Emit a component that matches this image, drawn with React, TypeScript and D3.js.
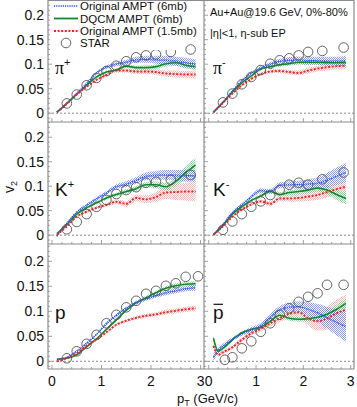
import React from "react";
import * as d3 from "d3";

// model pT grid (GeV/c)
const gridA = [0.1, 0.3, 0.5, 0.7, 0.9, 1.1, 1.3, 1.5, 1.7, 1.9, 2.1, 2.3, 2.5, 2.7, 2.9];
const gridPbar = [0.1, 0.2, 0.3, 0.5, 0.7, 0.9, 1.1, 1.3, 1.5, 1.7, 1.9, 2.1, 2.3, 2.5, 2.7, 2.9];

// pi+
const piPlusOrig6 = [0.002, 0.020, 0.040, 0.060, 0.082, 0.094, 0.100, 0.104, 0.109, 0.110, 0.109, 0.108, 0.106, 0.103, 0.100];
const piPlusOrig6Err = [0.001, 0.002, 0.002, 0.003, 0.003, 0.004, 0.004, 0.005, 0.006, 0.007, 0.008, 0.009, 0.009, 0.010, 0.010];
const piPlusDqcm = [0.002, 0.020, 0.039, 0.057, 0.074, 0.084, 0.088, 0.096, 0.093, 0.093, 0.095, 0.101, 0.103, 0.098, 0.095];
const piPlusDqcmErr = [0.001, 0.001, 0.002, 0.002, 0.003, 0.003, 0.003, 0.004, 0.004, 0.005, 0.005, 0.006, 0.006, 0.007, 0.007];
const piPlusOrig15 = [0.002, 0.019, 0.038, 0.054, 0.068, 0.078, 0.087, 0.087, 0.085, 0.085, 0.084, 0.081, 0.080, 0.079, 0.079];
const piPlusOrig15Err = [0.001, 0.001, 0.002, 0.002, 0.003, 0.003, 0.004, 0.004, 0.005, 0.005, 0.006, 0.006, 0.007, 0.007, 0.008];
const piPlusStarPt = [0.3, 0.5, 0.7, 0.9, 1.1, 1.3, 1.5, 1.7, 1.9, 2.1, 2.4, 2.8];
const piPlusStarV2 = [0.020, 0.038, 0.057, 0.072, 0.086, 0.097, 0.106, 0.114, 0.118, 0.120, 0.125, 0.130];

// pi-
const piMinusOrig6 = [0.002, 0.022, 0.045, 0.066, 0.082, 0.092, 0.100, 0.106, 0.108, 0.108, 0.107, 0.107, 0.106, 0.106, 0.107];
const piMinusOrig6Err = [0.001, 0.002, 0.002, 0.003, 0.003, 0.004, 0.004, 0.005, 0.006, 0.007, 0.008, 0.008, 0.009, 0.009, 0.010];
const piMinusDqcm = [0.002, 0.022, 0.043, 0.062, 0.076, 0.090, 0.095, 0.099, 0.101, 0.104, 0.104, 0.104, 0.103, 0.103, 0.103];
const piMinusDqcmErr = [0.001, 0.001, 0.002, 0.002, 0.003, 0.003, 0.003, 0.004, 0.004, 0.005, 0.005, 0.005, 0.006, 0.006, 0.007];
const piMinusOrig15 = [0.002, 0.021, 0.040, 0.057, 0.070, 0.080, 0.085, 0.086, 0.084, 0.082, 0.087, 0.091, 0.094, 0.096, 0.097];
const piMinusOrig15Err = [0.001, 0.001, 0.002, 0.002, 0.003, 0.003, 0.004, 0.004, 0.005, 0.005, 0.006, 0.006, 0.007, 0.007, 0.008];
const piMinusStarPt = [0.3, 0.5, 0.7, 0.9, 1.1, 1.3, 1.5, 1.7, 1.9, 2.1, 2.4, 2.85];
const piMinusStarV2 = [0.022, 0.040, 0.059, 0.074, 0.088, 0.101, 0.108, 0.112, 0.118, 0.125, 0.127, 0.134];

// K+
const kPlusOrig6 = [-0.002, 0.024, 0.047, 0.061, 0.074, 0.086, 0.099, 0.104, 0.112, 0.120, 0.122, 0.123, 0.122, 0.121, 0.121];
const kPlusOrig6Err = [0.001, 0.002, 0.003, 0.003, 0.004, 0.004, 0.005, 0.006, 0.007, 0.008, 0.009, 0.010, 0.011, 0.012, 0.012];
const kPlusDqcm = [0.003, 0.022, 0.043, 0.056, 0.066, 0.076, 0.083, 0.089, 0.095, 0.103, 0.103, 0.099, 0.110, 0.128, 0.143];
const kPlusDqcmErr = [0.001, 0.002, 0.002, 0.003, 0.003, 0.004, 0.004, 0.005, 0.005, 0.006, 0.007, 0.008, 0.010, 0.013, 0.015];
const kPlusOrig15 = [0.001, 0.018, 0.038, 0.048, 0.056, 0.062, 0.068, 0.064, 0.076, 0.073, 0.078, 0.087, 0.088, 0.089, 0.089];
const kPlusOrig15Err = [0.001, 0.002, 0.002, 0.003, 0.003, 0.004, 0.005, 0.006, 0.007, 0.008, 0.010, 0.013, 0.016, 0.018, 0.020];
const kPlusStarPt = [0.3, 0.5, 0.7, 0.9, 1.1, 1.3, 1.5, 1.7, 1.9, 2.1, 2.4, 2.8];
const kPlusStarV2 = [0.012, 0.027, 0.043, 0.058, 0.072, 0.084, 0.092, 0.098, 0.107, 0.109, 0.113, 0.123];

// K-
const kMinusOrig6 = [0.001, 0.022, 0.046, 0.062, 0.078, 0.091, 0.089, 0.102, 0.103, 0.103, 0.104, 0.106, 0.112, 0.120, 0.128];
const kMinusOrig6Err = [0.001, 0.002, 0.003, 0.003, 0.004, 0.005, 0.005, 0.006, 0.007, 0.008, 0.010, 0.012, 0.015, 0.018, 0.020];
const kMinusDqcm = [0.001, 0.020, 0.043, 0.058, 0.071, 0.080, 0.089, 0.083, 0.087, 0.089, 0.092, 0.096, 0.092, 0.083, 0.075];
const kMinusDqcmErr = [0.001, 0.002, 0.002, 0.003, 0.003, 0.004, 0.004, 0.005, 0.005, 0.006, 0.007, 0.008, 0.009, 0.011, 0.012];
const kMinusOrig15 = [0.001, 0.018, 0.038, 0.052, 0.063, 0.069, 0.064, 0.075, 0.075, 0.076, 0.079, 0.082, 0.088, 0.094, 0.099];
const kMinusOrig15Err = [0.001, 0.002, 0.002, 0.003, 0.003, 0.004, 0.005, 0.006, 0.007, 0.008, 0.009, 0.010, 0.011, 0.012, 0.012];
const kMinusStarPt = [0.3, 0.5, 0.7, 0.9, 1.1, 1.3, 1.5, 1.7, 1.9, 2.1, 2.4, 2.85];
const kMinusStarV2 = [0.011, 0.028, 0.043, 0.058, 0.069, 0.082, 0.092, 0.103, 0.107, 0.103, 0.114, 0.128];

// p
const pOrig6 = [0.004, 0.008, 0.020, 0.036, 0.054, 0.075, 0.092, 0.106, 0.117, 0.125, 0.131, 0.137, 0.141, 0.145, 0.147];
const pOrig6Err = [0.001, 0.001, 0.002, 0.002, 0.002, 0.003, 0.003, 0.003, 0.004, 0.004, 0.004, 0.005, 0.005, 0.005, 0.006];
const pDqcm = [0.004, 0.006, 0.013, 0.029, 0.045, 0.064, 0.083, 0.102, 0.117, 0.127, 0.137, 0.146, 0.151, 0.154, 0.155];
const pDqcmErr = [0.001, 0.001, 0.001, 0.002, 0.002, 0.002, 0.003, 0.003, 0.003, 0.004, 0.004, 0.004, 0.005, 0.005, 0.005];
const pOrig15 = [0.000, 0.006, 0.016, 0.031, 0.044, 0.058, 0.073, 0.081, 0.087, 0.091, 0.094, 0.098, 0.101, 0.104, 0.106];
const pOrig15Err = [0.001, 0.001, 0.002, 0.002, 0.002, 0.003, 0.003, 0.003, 0.004, 0.004, 0.004, 0.005, 0.005, 0.005, 0.006];
const pStarPt = [0.3, 0.5, 0.7, 0.9, 1.1, 1.3, 1.5, 1.7, 1.9, 2.1, 2.3, 2.5, 2.7, 2.95];
const pStarV2 = [0.006, 0.020, 0.035, 0.053, 0.076, 0.093, 0.108, 0.121, 0.135, 0.141, 0.151, 0.156, 0.169, 0.170];

// pbar
const pbarOrig6 = [0.008, 0.022, 0.030, 0.044, 0.055, 0.063, 0.071, 0.088, 0.103, 0.108, 0.109, 0.104, 0.097, 0.087, 0.078, 0.069];
const pbarOrig6Err = [0.008, 0.006, 0.005, 0.004, 0.004, 0.005, 0.006, 0.007, 0.008, 0.009, 0.011, 0.014, 0.018, 0.022, 0.026, 0.030];
const pbarDqcm = [0.046, 0.020, 0.026, 0.043, 0.057, 0.064, 0.068, 0.080, 0.092, 0.086, 0.084, 0.085, 0.088, 0.094, 0.104, 0.116];
const pbarDqcmErr = [0.006, 0.004, 0.003, 0.003, 0.003, 0.003, 0.004, 0.004, 0.004, 0.005, 0.005, 0.006, 0.007, 0.008, 0.009, 0.010];
const pbarOrig15 = [0.031, 0.013, 0.018, 0.028, 0.043, 0.056, 0.065, 0.076, 0.086, 0.095, 0.098, 0.086, 0.080, 0.086, 0.096, 0.103];
const pbarOrig15Err = [0.006, 0.004, 0.004, 0.004, 0.005, 0.005, 0.006, 0.007, 0.008, 0.010, 0.012, 0.015, 0.019, 0.023, 0.027, 0.030];
const pbarStarPt = [0.34, 0.5, 0.7, 0.9, 1.1, 1.3, 1.5, 1.7, 1.9, 2.1, 2.3, 2.5, 2.85];
const pbarStarV2 = [0.003, 0.008, 0.026, 0.040, 0.059, 0.076, 0.093, 0.106, 0.119, 0.129, 0.136, 0.153, 0.153];

const yTicks = [0, 0.05, 0.1, 0.15, 0.2];
const xTicks = [0, 1, 2, 3];
const legendLabels = ["Original AMPT (6mb)", "DQCM AMPT (6mb)", "Original AMPT (1.5mb)", "STAR"];

const BLUE = "#2a4dff";
const GREEN = "#11882a";
const RED = "#f52020";
const AXIS = "#8c8c8c";
const FONT = "Liberation Sans, Arial, sans-serif";

const cols = [
  { x0: 48, x1: 204, dom: [-0.08, 3.07] },
  { x0: 204, x1: 354, dom: [-0.1, 3.07] },
];
const rows = [
  { y0: 0, y1: 122, dom: [-0.018, 0.231] },
  { y0: 122, y1: 244, dom: [-0.018, 0.231] },
  { y0: 244, y1: 369, dom: [-0.0154, 0.2346] },
];

type Series = { v: number[]; e: number[] };
type Panel = {
  row: number;
  col: number;
  grid: number[];
  orig6: Series;
  dqcm: Series;
  orig15: Series;
  starPt: number[];
  starV2: number[];
  label: string;
  sup?: string;
  greek?: boolean;
  bar?: boolean;
};

const panels: Panel[] = [
  { row: 0, col: 0, grid: gridA, orig6: { v: piPlusOrig6, e: piPlusOrig6Err }, dqcm: { v: piPlusDqcm, e: piPlusDqcmErr }, orig15: { v: piPlusOrig15, e: piPlusOrig15Err }, starPt: piPlusStarPt, starV2: piPlusStarV2, label: "π", sup: "+", greek: true },
  { row: 0, col: 1, grid: gridA, orig6: { v: piMinusOrig6, e: piMinusOrig6Err }, dqcm: { v: piMinusDqcm, e: piMinusDqcmErr }, orig15: { v: piMinusOrig15, e: piMinusOrig15Err }, starPt: piMinusStarPt, starV2: piMinusStarV2, label: "π", sup: "-", greek: true },
  { row: 1, col: 0, grid: gridA, orig6: { v: kPlusOrig6, e: kPlusOrig6Err }, dqcm: { v: kPlusDqcm, e: kPlusDqcmErr }, orig15: { v: kPlusOrig15, e: kPlusOrig15Err }, starPt: kPlusStarPt, starV2: kPlusStarV2, label: "K", sup: "+" },
  { row: 1, col: 1, grid: gridA, orig6: { v: kMinusOrig6, e: kMinusOrig6Err }, dqcm: { v: kMinusDqcm, e: kMinusDqcmErr }, orig15: { v: kMinusOrig15, e: kMinusOrig15Err }, starPt: kMinusStarPt, starV2: kMinusStarV2, label: "K", sup: "-" },
  { row: 2, col: 0, grid: gridA, orig6: { v: pOrig6, e: pOrig6Err }, dqcm: { v: pDqcm, e: pDqcmErr }, orig15: { v: pOrig15, e: pOrig15Err }, starPt: pStarPt, starV2: pStarV2, label: "p" },
  { row: 2, col: 1, grid: gridPbar, orig6: { v: pbarOrig6, e: pbarOrig6Err }, dqcm: { v: pbarDqcm, e: pbarDqcmErr }, orig15: { v: pbarOrig15, e: pbarOrig15Err }, starPt: pbarStarPt, starV2: pbarStarV2, label: "p", bar: true },
];

function PanelView({ p }: { p: Panel }) {
  const c = cols[p.col];
  const r = rows[p.row];
  const x = d3.scaleLinear().domain(c.dom).range([c.x0, c.x1]);
  const y = d3.scaleLinear().domain(r.dom).range([r.y1, r.y0]);
  const clipId = `clip-${p.row}-${p.col}`;
  const idx = p.grid.map((_, i) => i);

  const band = (s: Series) =>
    d3.area<number>()
      .x((i) => x(p.grid[i]))
      .y0((i) => y(s.v[i] - s.e[i]))
      .y1((i) => y(s.v[i] + s.e[i]))
      .curve(d3.curveMonotoneX)(idx) || "";
  const line = (s: Series) =>
    d3.line<number>()
      .x((i) => x(p.grid[i]))
      .y((i) => y(s.v[i]))
      .curve(d3.curveMonotoneX)(idx) || "";

  const minorY = d3.range(-1, 24).map((k) => k * 0.01);
  const minorX = d3.range(0, 16).map((k) => k * 0.2);

  const lx = c.x0 + (p.col === 0 ? 7 : 9);
  const ly = p.row === 2 ? y(0.098) : y(0.095);

  return (
    <g>
      <clipPath id={clipId}>
        <rect x={c.x0} y={r.y0} width={c.x1 - c.x0} height={r.y1 - r.y0} />
      </clipPath>
      <g clipPath={`url(#${clipId})`}>
        <line x1={c.x0} x2={c.x1} y1={y(0)} y2={y(0)} stroke={AXIS} strokeWidth={1} strokeDasharray="2,2" />
        <path d={band(p.orig15)} fill="url(#hatchRed)" />
        <path d={band(p.dqcm)} fill="url(#hatchGreen)" />
        <path d={band(p.orig6)} fill="url(#hatchBlue)" />
        <path d={line(p.dqcm)} fill="none" stroke={GREEN} strokeWidth={1.6} />
        <path d={line(p.orig6)} fill="none" stroke={BLUE} strokeWidth={1.6} strokeDasharray="1.2,1" />
        <path d={line(p.orig15)} fill="none" stroke={RED} strokeWidth={1.9} strokeDasharray="2,1.6" />
        {p.starPt.map((pt, i) => (
          <circle key={i} cx={x(pt)} cy={y(p.starV2[i])} r={4.8} fill="none" stroke="#555" strokeWidth={0.9} />
        ))}
      </g>
      {/* left axis ticks */}
      {minorY.map((v, i) => {
        const yy = y(v);
        if (yy < r.y0 || yy > r.y1) return null;
        const major = Math.abs(Math.round(v * 100) % 5) === 0;
        return <line key={"yt" + i} x1={c.x0} x2={c.x0 + (major ? 4 : 2)} y1={yy} y2={yy} stroke={AXIS} strokeWidth={0.8} />;
      })}
      {/* bottom axis ticks */}
      {minorX.map((v, i) => {
        const xx = x(v);
        const major = Math.abs(v - Math.round(v)) < 1e-6;
        return <line key={"xt" + i} x1={xx} x2={xx} y1={r.y1} y2={r.y1 - (major ? 4 : 2)} stroke={AXIS} strokeWidth={0.8} />;
      })}
      {p.col === 0 &&
        yTicks.map((t) => (
          <text key={"yl" + t} x={44} y={y(t) + 5} textAnchor="end" fontFamily={FONT} fontSize={14} fill="#111">
            {t}
          </text>
        ))}
      {p.row === 2 &&
        xTicks.map((t) => (
          <text key={"xl" + t} x={x(t)} y={386} textAnchor="middle" fontFamily={FONT} fontSize={14} fill="#111">
            {t}
          </text>
        ))}
      {/* particle label */}
      <text x={lx} y={ly + 7} fontFamily={p.greek ? "Liberation Serif, Times New Roman, serif" : FONT} fontSize={p.greek ? 18 : 19} fill="#111">
        {p.label}
        {p.sup && (
          <tspan fontFamily={FONT} fontSize={11} dy={-8}>
            {p.sup}
          </tspan>
        )}
      </text>
      {p.bar && <line x1={lx + 0.5} x2={lx + 10} y1={ly - 8} y2={ly - 8} stroke="#111" strokeWidth={1.2} />}
    </g>
  );
}

export default function App() {
  const W = 357;
  const H = 407;
  const legendY = [6, 18.5, 31, 43];
  return (
    <svg width={W} height={H} style={{ position: "absolute", left: 0, top: 0, background: "#fff" }}>
      <defs>
        <pattern id="hatchBlue" width={2} height={2} patternUnits="userSpaceOnUse">
          <rect x={0} y={0} width={1} height={1} fill="#5d7cff" fillOpacity={0.75} />
          <rect x={1} y={1} width={1} height={1} fill="#5d7cff" fillOpacity={0.75} />
        </pattern>
        <pattern id="hatchGreen" width={2} height={2} patternUnits="userSpaceOnUse">
          <rect x={0} y={0} width={1} height={1} fill="#4fd07a" fillOpacity={0.7} />
          <rect x={1} y={1} width={1} height={1} fill="#4fd07a" fillOpacity={0.7} />
        </pattern>
        <pattern id="hatchRed" width={2} height={2} patternUnits="userSpaceOnUse">
          <rect x={0} y={0} width={1} height={1} fill="#ff9a9a" fillOpacity={0.75} />
          <rect x={1} y={1} width={1} height={1} fill="#ff9a9a" fillOpacity={0.75} />
        </pattern>
      </defs>
      {panels.map((p, i) => (
        <PanelView key={i} p={p} />
      ))}
      {/* frame lines */}
      {[48, 204, 354].map((xx) => (
        <line key={"v" + xx} x1={xx} x2={xx} y1={0} y2={369} stroke={AXIS} strokeWidth={1.2} />
      ))}
      {[0.5, 122, 244, 369].map((yy) => (
        <line key={"h" + yy} x1={48} x2={354} y1={yy} y2={yy} stroke={AXIS} strokeWidth={1.2} />
      ))}
      {/* legend */}
      <rect x={50} y={1} width={130} height={49} fill="#fff" />
      <line x1={54} x2={78} y1={legendY[0]} y2={legendY[0]} stroke={BLUE} strokeWidth={1.6} strokeDasharray="1.2,1" />
      <line x1={54} x2={78} y1={legendY[1]} y2={legendY[1]} stroke={GREEN} strokeWidth={1.8} />
      <line x1={54} x2={78} y1={legendY[2]} y2={legendY[2]} stroke={RED} strokeWidth={1.9} strokeDasharray="2,1.6" />
      <circle cx={66} cy={legendY[3]} r={4.8} fill="none" stroke="#555" strokeWidth={0.9} />
      {legendLabels.map((t, i) => (
        <text key={t} x={80} y={legendY[i] + 4} fontFamily={FONT} fontSize={11.5} fill="#111">
          {t}
        </text>
      ))}
      {/* header */}
      <text x={210} y={16} fontFamily={FONT} fontSize={11} fill="#111">Au+Au@19.6 GeV, 0%-80%</text>
      <text x={210} y={37} fontFamily={FONT} fontSize={11} fill="#111">|η|&lt;1, η-sub EP</text>
      {/* axis titles */}
      <text transform="translate(14,187) rotate(-90)" textAnchor="middle" fontFamily={FONT} fontSize={14} fill="#111">
        v<tspan fontSize={9} dy={3}>2</tspan>
      </text>
      <text x={177} y={403} fontFamily={FONT} fontSize={13} fill="#111">
        p<tspan fontSize={9} dy={3}>T</tspan>
        <tspan dy={-3}> (GeV/c)</tspan>
      </text>
    </svg>
  );
}
